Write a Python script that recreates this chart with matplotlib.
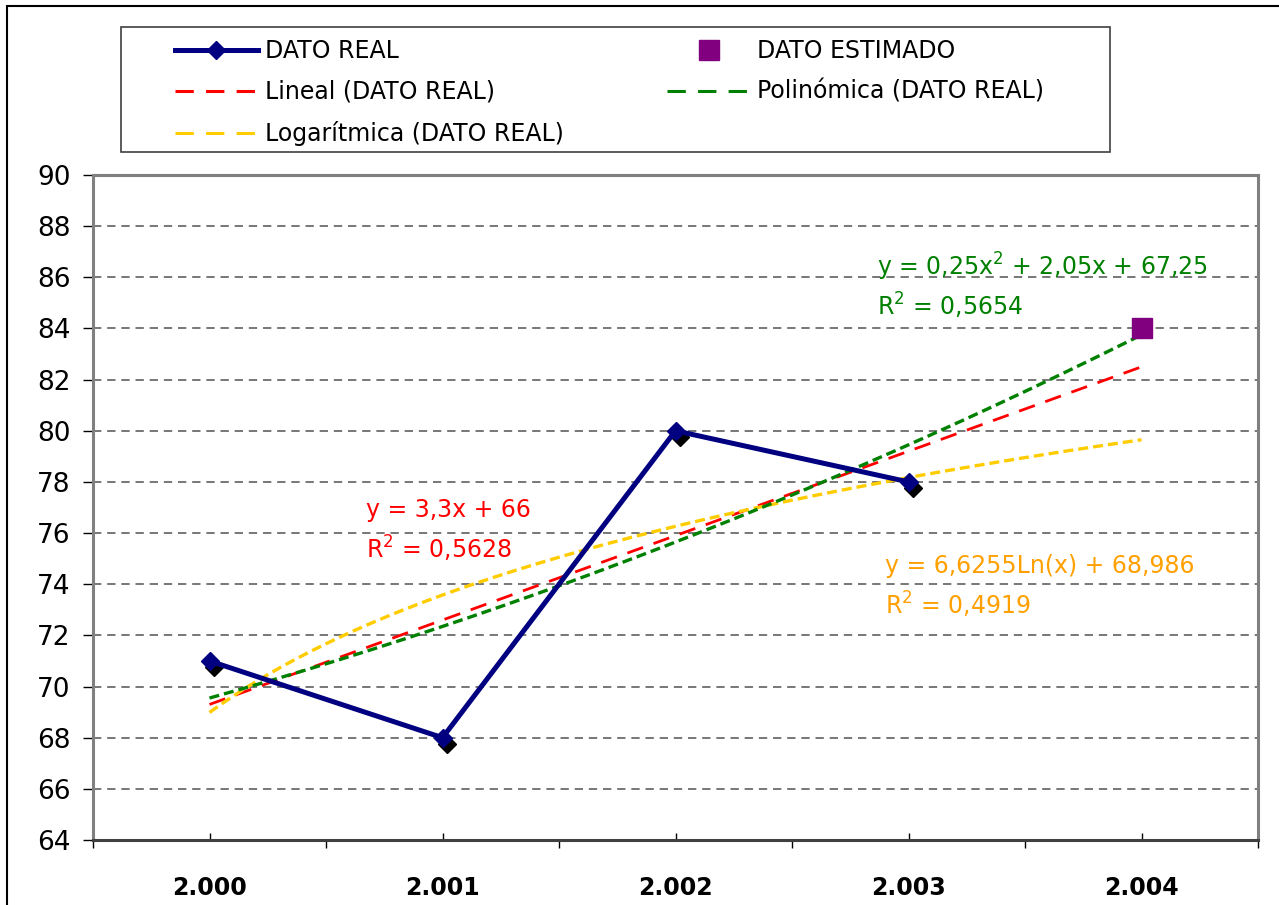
import numpy as np
import matplotlib
matplotlib.use("Agg")
import matplotlib.pyplot as plt
import matplotlib.transforms as mtransforms
from matplotlib.lines import Line2D
from matplotlib.patches import Rectangle

years = ["2.000", "2.001", "2.002", "2.003", "2.004"]
x_real = [1, 2, 3, 4]
y_real = [71, 68, 80, 78]
x_est = [5]
y_est = [84]

lin_label = ["y = 3,3x + 66", r"R$\mathregular{^2}$ = 0,5628"]
poly_label = [r"y = 0,25x$\mathregular{^2}$ + 2,05x + 67,25", r"R$\mathregular{^2}$ = 0,5654"]
log_label = ["y = 6,6255Ln(x) + 68,986", r"R$\mathregular{^2}$ = 0,4919"]

# trendlines fitted on the real data (same as the spreadsheet)
xr = np.array(x_real, dtype=float)
yr = np.array(y_real, dtype=float)
xs = np.linspace(1, 5, 200)
lin = np.polyval(np.polyfit(xr, yr, 1), xs)
poly = np.polyval(np.polyfit(xr, yr, 2), xs)
logc = np.polyfit(np.log(xr), yr, 1)
logy = logc[0] * np.log(xs) + logc[1]

W, H = 1279, 905
fig = plt.figure(figsize=(W / 100, H / 100), dpi=100)
ax = fig.add_axes([93 / W, 1 - 840 / H, (1258 - 93) / W, (840 - 175) / H])

fs = 17
ax.set_xlim(0.5, 5.5)
ax.set_ylim(64, 90)
ax.set_yticks(np.arange(64, 91, 2))
ax.set_xticks(range(1, 6))
ax.set_xticklabels(years, fontweight="bold", fontsize=fs)
ax.set_xticks(np.arange(0.5, 5.6, 1), minor=True)
ax.tick_params(axis="x", which="major", direction="in", length=5, pad=26, width=1)
ax.tick_params(axis="x", which="minor", direction="out", length=6, width=1)
ax.tick_params(axis="y", direction="out", length=7, pad=9, labelsize=19, width=1)

for y in range(66, 90, 2):
    ax.axhline(y, color="#606060", lw=1.2, ls=(0, (5, 3.5)), zorder=0)

for s in ["left", "top", "right"]:
    ax.spines[s].set_color("#808080")
    ax.spines[s].set_linewidth(2.2)
ax.spines["bottom"].set_color("#404040")
ax.spines["bottom"].set_linewidth(2.2)

# trendlines
ax.plot(xs, lin, color="#FF0000", lw=2, ls=(0, (6, 4)), zorder=3)
ax.plot(xs, logy, color="#FFCC00", lw=2.4, ls=(0, (3, 1.5)), zorder=3)
ax.plot(xs, poly, color="#008000", lw=2.4, ls=(0, (3, 1.5)), zorder=3)

# real data with shadowed diamonds
shadow = ax.transData + mtransforms.ScaledTranslation(4 / 100, -6 / 100, fig.dpi_scale_trans)
ax.plot(x_real, y_real, ls="none", marker="D", ms=9, color="black", transform=shadow, zorder=4)
ax.plot(x_real, y_real, color="#000080", lw=3.6, marker="D", ms=9, zorder=5)
ax.plot(x_est, y_est, ls="none", marker="s", ms=14, color="#800080", zorder=6)

ax.text(3.865, 86.4, poly_label[0], color="#008000", fontsize=fs, va="center")
ax.text(3.865, 84.9, poly_label[1], color="#008000", fontsize=fs, va="center")
ax.text(1.67, 76.9, lin_label[0], color="#FF0000", fontsize=fs, va="center")
ax.text(1.67, 75.4, lin_label[1], color="#FF0000", fontsize=fs, va="center")
ax.text(3.9, 74.7, log_label[0], color="#FFA000", fontsize=fs, va="center")
ax.text(3.9, 73.2, log_label[1], color="#FFA000", fontsize=fs, va="center")

handles = [
    Line2D([], [], color="#000080", lw=3.6, marker="D", ms=9),
    Line2D([], [], color="#FF0000", lw=2.2, ls=(0, (6, 4))),
    Line2D([], [], color="#FFCC00", lw=2.2, ls=(0, (6, 4))),
    Line2D([], [], color="#800080", ls="none", marker="s", ms=14),
    Line2D([], [], color="#008000", lw=2.2, ls=(0, (6, 4))),
]
labels = ["DATO REAL", "Lineal (DATO REAL)", "Logarítmica (DATO REAL)",
          "DATO ESTIMADO", "Polinómica (DATO REAL)"]
leg = fig.legend(handles, labels, ncol=2, loc="upper left",
                 bbox_to_anchor=(175 / W, 1 - 39 / H),
                 fontsize=fs, frameon=False,
                 handlelength=3.5, handletextpad=0.3, labelspacing=0.72,
                 borderpad=0, borderaxespad=0, columnspacing=4.4)

# legend box
fig.patches.append(Rectangle((121 / W, 1 - 152 / H), (1110 - 121) / W, (152 - 27) / H,
                             transform=fig.transFigure, fill=False,
                             edgecolor="#404040", lw=1.2))
# chart area border
fig.patches.append(Rectangle((7 / W, -0.1), 1.2, 1 - 6 / H + 0.1, transform=fig.transFigure,
                             fill=False, edgecolor="black", lw=1.5))

fig.savefig("out.png", dpi=100)
